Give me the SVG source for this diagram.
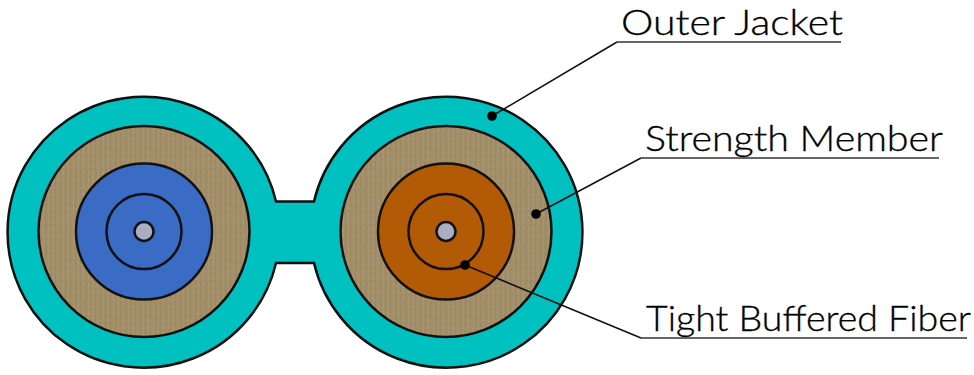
<svg xmlns="http://www.w3.org/2000/svg" width="974" height="375" viewBox="0 0 974 375">
<style>
.o{stroke:#111;stroke-width:2.5}
.jacket{fill:#00c0c0}
.strength{fill:url(#weave)}
.blue{fill:#3a6cc6}
.orange{fill:#b35a06}
.none{fill:none}
.core{fill:#a9aec4}
.lead{stroke:#111;stroke-width:1.5;fill:none}
.rule{stroke:#333;stroke-width:1.5;fill:none}
.dot{fill:#000}
text{font-family:"Lato","Open Sans","Liberation Sans",sans-serif;font-weight:300;font-size:36px;fill:#000;stroke:#000;stroke-width:.35}
</style>
<defs>
<pattern id="weave" width="5" height="7" patternUnits="userSpaceOnUse">
<rect width="5" height="7" fill="#a28e69"/>
<rect x="0" width="1" height="5" fill="#9a865f"/>
<rect x="3" y="2" width="1" height="5" fill="#aa9673"/>
</pattern>
</defs>
<g id="jacket-body"><path class="o jacket" d="M276 201.500L314 201.500A136 135.500 0 1 1 314 263L276 263A136 135.500 0 1 1 276 201.500Z"/></g>
<g id="left-fiber">
<circle class="o strength" cx="144" cy="231.500" r="105.500"/>
<circle class="o blue" cx="144" cy="231.500" r="68"/>
<circle class="o none" cx="144" cy="231.500" r="37.500"/>
<circle class="o core" cx="144" cy="231.500" r="9.500"/>
</g>
<g id="right-fiber">
<circle class="o strength" cx="446" cy="231.500" r="105.500"/>
<circle class="o orange" cx="446" cy="231.500" r="68"/>
<circle class="o none" cx="446" cy="231.500" r="37.500"/>
<circle class="o core" cx="446" cy="231.500" r="9.500"/>
</g>
<g id="connectors">
<path class="lead" d="M492 116L617 42"/><path class="rule" d="M617 42L841 42"/>
<path class="lead" d="M536 214L641 158"/><path class="rule" d="M641 158L939 158"/>
<path class="lead" d="M465 265L641 338"/><path class="rule" d="M641 338L967 338"/>
<circle class="dot" cx="492" cy="116" r="4.800"/>
<circle class="dot" cx="536" cy="214" r="4.800"/>
<circle class="dot" cx="465" cy="265" r="4.800"/>
</g>
<g id="label-outer-jacket"><text x="621" y="35" textLength="222" lengthAdjust="spacingAndGlyphs">Outer Jacket</text></g>
<g id="label-strength-member"><text x="645" y="151" textLength="298" lengthAdjust="spacingAndGlyphs">Strength Member</text></g>
<g id="label-tight-buffered-fiber"><text x="646" y="331" textLength="325" lengthAdjust="spacingAndGlyphs">Tight Buffered Fiber</text></g>
</svg>
